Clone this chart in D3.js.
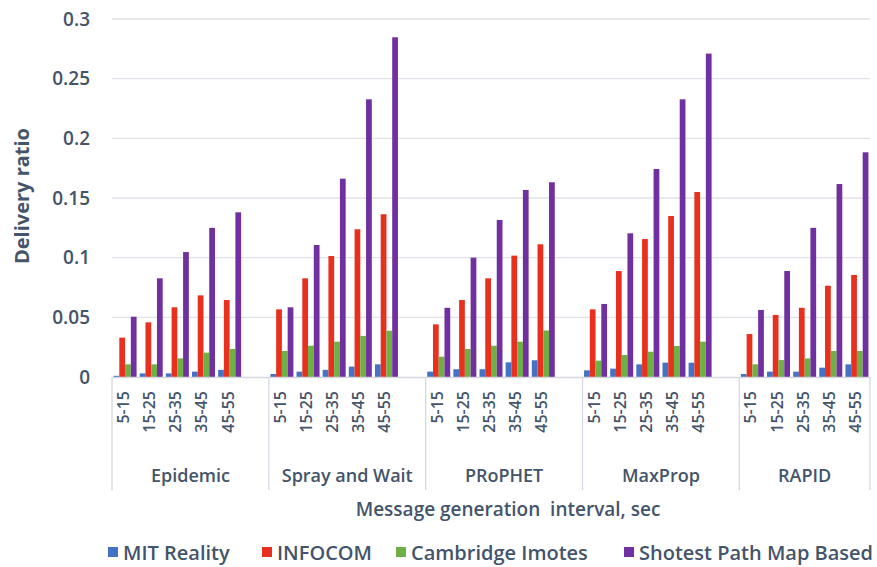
<!DOCTYPE html>
<html>
<head>
<meta charset="utf-8">
<script src="https://cdn.jsdelivr.net/npm/d3@7/dist/d3.min.js"></script>
<style>
  html, body { margin: 0; padding: 0; background: #fff; }
  svg { display: block; font-family: "Open Sans", "Noto Sans", sans-serif; }
</style>
</head>
<body>
<svg id="chart" width="877" height="567"></svg>
<script>
// Routing protocols (outer category level) and message intervals (inner level)
const protocols = ["Epidemic", "Spray and Wait", "PRoPHET", "MaxProp", "RAPID"];
const intervals = ["5-15", "15-25", "25-35", "35-45", "45-55"];
const seriesNames = ["MIT Reality", "INFOCOM", "Cambridge Imotes", "Shotest Path Map Based"];
const seriesColors = ["#4472c4", "#e8301f", "#6fb044", "#7030a0"];

// Delivery ratio per protocol (rows) and interval (columns)
const mitReality = [
  [0.001, 0.003, 0.003, 0.0045, 0.006],
  [0.0025, 0.0045, 0.006, 0.0087, 0.0106],
  [0.0045, 0.0065, 0.0065, 0.0123, 0.014],
  [0.0056, 0.007, 0.0106, 0.012, 0.012],
  [0.0025, 0.0045, 0.0045, 0.0078, 0.0106]
];
const infocom = [
  [0.033, 0.0458, 0.0584, 0.0684, 0.0645],
  [0.0567, 0.0827, 0.1014, 0.1238, 0.1364],
  [0.0441, 0.0645, 0.0827, 0.1017, 0.1112],
  [0.0567, 0.0888, 0.1156, 0.1349, 0.155],
  [0.036, 0.052, 0.058, 0.0765, 0.0855]
];
const cambridgeImotes = [
  [0.0106, 0.0106, 0.0156, 0.0204, 0.0235],
  [0.0218, 0.0262, 0.0296, 0.0344, 0.0388],
  [0.017, 0.0235, 0.0262, 0.0296, 0.039],
  [0.0137, 0.0184, 0.0212, 0.026, 0.0296],
  [0.0106, 0.0142, 0.0156, 0.0218, 0.0218]
];
const shortestPath = [
  [0.0505, 0.0827, 0.1047, 0.125, 0.138],
  [0.0584, 0.1106, 0.1662, 0.2327, 0.2847],
  [0.058, 0.1, 0.1316, 0.1567, 0.1632],
  [0.0612, 0.1204, 0.1743, 0.2327, 0.271],
  [0.0562, 0.0888, 0.125, 0.1617, 0.1883]
];
const yTickValues = [0, 0.05, 0.1, 0.15, 0.2, 0.25, 0.3];
const yTickLabels = ["0", "0.05", "0.1", "0.15", "0.2", "0.25", "0.3"];

const seriesData = [mitReality, infocom, cambridgeImotes, shortestPath];
const textColor = "#44546a";

const svg = d3.select("#chart");
svg.append("rect").attr("width", 877).attr("height", 567).attr("fill", "#fff");

const plot = { left: 112, right: 870, top: 19, bottom: 377 };

// One slot per interval, with an empty slot between protocol groups
const slotsPerGroup = intervals.length + 1;
const slotCount = protocols.length * slotsPerGroup - 1;
const x = d3.scaleBand()
  .domain(d3.range(slotCount))
  .range([plot.left, plot.right])
  .paddingInner(0.12)
  .paddingOuter(0.06);
const xSeries = d3.scaleBand()
  .domain(d3.range(seriesNames.length))
  .range([0, x.bandwidth()]);
const y = d3.scaleLinear().domain([0, 0.3]).range([plot.bottom, plot.top]);

const step = x.step();
const slotLeft = i => plot.left + i * step;
const slotIndex = (g, i) => g * slotsPerGroup + i;

// Horizontal gridlines
svg.append("g")
  .selectAll("line")
  .data(yTickValues.slice(1))
  .join("line")
  .attr("x1", plot.left).attr("x2", plot.right)
  .attr("y1", d => y(d)).attr("y2", d => y(d))
  .attr("stroke", "#dfe2ea").attr("stroke-width", 1.3);

// Y axis labels
const yAxis = d3.axisLeft(y)
  .tickValues(yTickValues)
  .tickFormat((d, i) => yTickLabels[i])
  .tickSize(0)
  .tickPadding(22);
const yG = svg.append("g").attr("transform", `translate(${plot.left},0)`).call(yAxis);
yG.select(".domain").remove();
yG.selectAll("text")
  .attr("fill", textColor)
  .attr("font-size", 19)
  .attr("font-weight", 600)
  .attr("font-family", "'Open Sans', sans-serif");

// Bars
const flat = [];
protocols.forEach((p, g) => {
  intervals.forEach((iv, i) => {
    seriesData.forEach((s, k) => {
      flat.push({ g, i, k, v: s[g][i] });
    });
  });
});
svg.append("g")
  .selectAll("rect")
  .data(flat)
  .join("rect")
  .attr("x", d => x(slotIndex(d.g, d.i)) + xSeries(d.k))
  .attr("width", xSeries.bandwidth())
  .attr("y", d => y(d.v))
  .attr("height", d => y(0) - y(d.v))
  .attr("fill", d => seriesColors[d.k]);

// Category axis baseline
svg.append("line")
  .attr("x1", plot.left).attr("x2", plot.right)
  .attr("y1", y(0) + 0.5).attr("y2", y(0) + 0.5)
  .attr("stroke", "#d5d8e0").attr("stroke-width", 1.3);

// Group separators through both label levels
const separators = protocols.map((p, g) => slotLeft(g * slotsPerGroup)).concat([plot.right]);
svg.append("g")
  .selectAll("line")
  .data(separators)
  .join("line")
  .attr("x1", d => d).attr("x2", d => d)
  .attr("y1", y(0)).attr("y2", 490)
  .attr("stroke", "#d5d8e0").attr("stroke-width", 1.3);

// Interval labels, rotated
const tickG = svg.append("g");
protocols.forEach((p, g) => {
  intervals.forEach((iv, i) => {
    const cx = x(slotIndex(g, i)) + x.bandwidth() / 2 - 1;
    tickG.append("text")
      .attr("transform", `translate(${cx + 5},391) rotate(-90)`)
      .attr("text-anchor", "end")
      .attr("fill", textColor)
      .attr("font-size", 16)
      .attr("font-weight", 600)
      .text(iv);
  });
});

// Protocol labels centred on each group span
protocols.forEach((p, g) => {
  const a = separators[g], b = separators[g + 1];
  svg.append("text")
    .attr("x", (a + b) / 2)
    .attr("y", 482)
    .attr("text-anchor", "middle")
    .attr("fill", textColor)
    .attr("font-size", 18)
    .attr("font-weight", 600)
    .text(p);
});

// Axis titles
svg.append("text")
  .attr("x", 508).attr("y", 516)
  .attr("text-anchor", "middle")
  .attr("fill", textColor)
  .attr("font-size", 19)
  .attr("font-weight", 600)
  .attr("xml:space", "preserve")
  .text("Message generation  interval, sec");

svg.append("text")
  .attr("transform", "translate(29,196) rotate(-90)")
  .attr("text-anchor", "middle")
  .attr("fill", textColor)
  .attr("font-size", 20)
  .attr("font-weight", 700)
  .text("Delivery ratio");

// Legend
const legendX = [108, 262, 396, 624];
const legend = svg.append("g");
seriesNames.forEach((name, k) => {
  legend.append("rect")
    .attr("x", legendX[k]).attr("y", 547)
    .attr("width", 10).attr("height", 10)
    .attr("fill", seriesColors[k]);
  legend.append("text")
    .attr("x", legendX[k] + 15).attr("y", 560)
    .attr("fill", textColor)
    .attr("font-size", 20)
    .attr("font-weight", 600)
    .text(name);
});
</script>
</body>
</html>
